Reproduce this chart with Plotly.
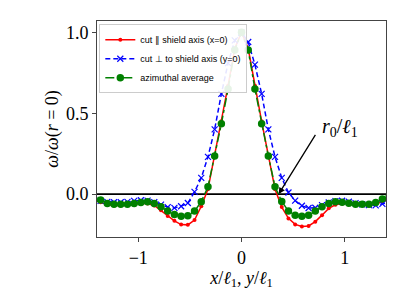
import plotly.graph_objects as go

x_vals = [-1.43, -1.365, -1.3, -1.235, -1.17, -1.105, -1.04, -0.975, -0.91, -0.845,
          -0.78, -0.715, -0.65, -0.585, -0.52, -0.455, -0.39, -0.325, -0.26, -0.195,
          -0.13, -0.065, 0.0, 0.065, 0.13, 0.195, 0.26, 0.325, 0.39, 0.455, 0.52,
          0.585, 0.65, 0.715, 0.78, 0.845, 0.91, 0.975, 1.04, 1.105, 1.17, 1.235,
          1.3, 1.365, 1.43]

cut_par = [-0.04, -0.05, -0.065, -0.07, -0.07, -0.068, -0.062, -0.058, -0.058, -0.07,
           -0.10, -0.135, -0.165, -0.188, -0.19, -0.16, -0.075, 0.03, 0.24, 0.45,
           0.67, 0.90, 1.0, 0.90, 0.67, 0.45, 0.24, 0.03, -0.08, -0.15, -0.187,
           -0.2, -0.197, -0.17, -0.13, -0.088, -0.066, -0.058, -0.058, -0.062, -0.067,
           -0.068, -0.062, -0.045, -0.035]

cut_perp = [-0.04, -0.042, -0.048, -0.05, -0.05, -0.048, -0.042, -0.038, -0.04, -0.05,
            -0.065, -0.08, -0.085, -0.075, -0.055, 0.014, 0.10, 0.23, 0.40, 0.62,
            0.81, 0.95, 1.0, 0.94, 0.80, 0.62, 0.40, 0.23, 0.10, 0.01, -0.04,
            -0.072, -0.086, -0.084, -0.068, -0.052, -0.043, -0.041, -0.047, -0.056, -0.063,
            -0.068, -0.07, -0.06, -0.05]

azim_avg = [-0.03, -0.037, -0.058, -0.062, -0.062, -0.062, -0.058, -0.051, -0.047, -0.058,
            -0.078, -0.105, -0.126, -0.136, -0.134, -0.105, -0.047, 0.045, 0.236, 0.435,
            0.65, 0.89, 1.0, 0.89, 0.65, 0.435, 0.236, 0.045, -0.045, -0.105, -0.13,
            -0.136, -0.13, -0.105, -0.078, -0.058, -0.047, -0.05, -0.057, -0.062, -0.062,
            -0.062, -0.052, -0.03, -0.015]

x_ticks = [-1, 0, 1]
x_tick_text = ["−1", "0", "1"]
y_ticks = [0.0, 0.5, 1.0]
y_tick_text = ["0.0", "0.5", "1.0"]

serif = "Liberation Serif, DejaVu Serif, serif"
sans = "Liberation Sans, Arial, sans-serif"

fig = go.Figure()

fig.add_hline(y=0, line=dict(color="black", width=1.6), layer="below")

fig.add_trace(go.Scatter(
    x=x_vals, y=cut_par, mode="lines+markers",
    name="cut ∥ shield axis (x=0)",
    line=dict(color="red", width=1.5),
    marker=dict(symbol="circle", size=4, color="red"),
))
fig.add_trace(go.Scatter(
    x=x_vals, y=cut_perp, mode="lines+markers",
    name="cut ⊥ to shield axis (y=0)",
    line=dict(color="blue", width=1.5, dash="5px,3px"),
    marker=dict(symbol="x-thin", size=6, line=dict(color="blue", width=1.2)),
))
fig.add_trace(go.Scatter(
    x=x_vals, y=azim_avg, mode="lines+markers",
    name="azimuthal average",
    line=dict(color="green", width=1.5, dash="dashdot"),
    marker=dict(symbol="circle", size=7.5, color="green"),
))

fig.add_annotation(
    x=0.36, y=0.0, ax=0.725, ay=0.375, xref="x", yref="y", axref="x", ayref="y",
    text="", showarrow=True, arrowhead=2, arrowsize=1, arrowwidth=1.3, arrowcolor="black",
)
fig.add_annotation(
    x=0.76, y=0.41, xref="x", yref="y", xanchor="left", yanchor="middle",
    text="<i>r</i><sub>0</sub>/<i>ℓ</i><sub>1</sub>", showarrow=False,
    font=dict(family=serif, size=20, color="black"),
)

axis_common = dict(
    showgrid=False, zeroline=False, showline=True, mirror=True,
    linecolor="#444", linewidth=1, ticks="outside", ticklen=4, tickcolor="#444",
    tickfont=dict(family=serif, size=18, color="black"),
)

fig.update_layout(
    width=407, height=305,
    margin=dict(l=97, r=21, t=21, b=68),
    paper_bgcolor="white", plot_bgcolor="white",
    showlegend=True,
    legend=dict(
        x=0.008, y=0.985, xanchor="left", yanchor="top",
        bgcolor="rgba(255,255,255,0.9)", bordercolor="#cccccc", borderwidth=1,
        font=dict(family=sans, size=9, color="black"),
        tracegroupgap=0, itemwidth=30,
    ),
    xaxis=dict(
        range=[-1.4, 1.4], tickvals=x_ticks, ticktext=x_tick_text,
        title=dict(text="<i>x</i>/<i>ℓ</i><sub>1</sub>, <i>y</i>/<i>ℓ</i><sub>1</sub>",
                   font=dict(family=serif, size=18, color="black"), standoff=0),
        **axis_common,
    ),
    yaxis=dict(
        range=[-0.265, 1.07], tickvals=y_ticks, ticktext=y_tick_text,
        title=dict(text="<i>ω</i>/<i>ω</i>(<i>r</i> = 0)",
                   font=dict(family=serif, size=18, color="black"), standoff=2),
        **axis_common,
    ),
)

fig.write_html("out.html", config={"displayModeBar": False},
               post_script="document.body.style.margin='0px';")
